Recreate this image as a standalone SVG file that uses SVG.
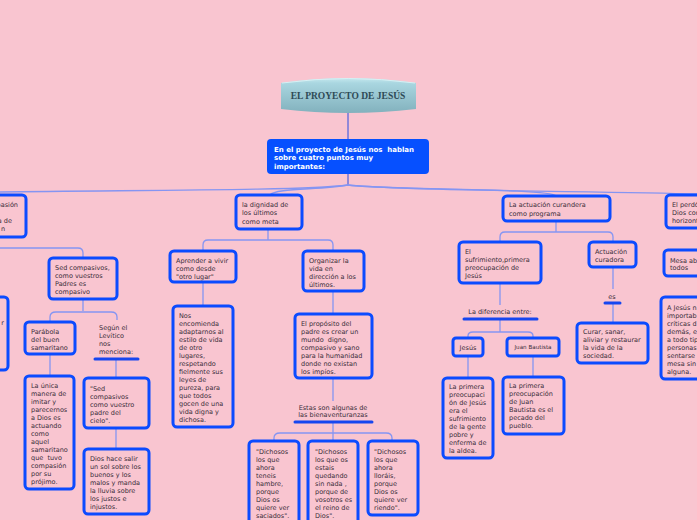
<svg xmlns="http://www.w3.org/2000/svg" width="697" height="520" viewBox="0 0 697 520">
<defs>
<linearGradient id="tg" x1="0" y1="0" x2="0" y2="1">
<stop offset="0" stop-color="#c4e8ee"/>
<stop offset="0.15" stop-color="#a9d6e0"/>
<stop offset="1" stop-color="#82b1bd"/>
</linearGradient>
<style>
.n{fill:#f9c5d0;stroke:#0b4bff;stroke-width:3}
.t{font-family:"DejaVu Sans",Verdana,sans-serif;font-size:6.5px;fill:#3a2e3a;white-space:pre}
.c{fill:none;stroke:#8595f2;stroke-width:1.3}
.b{stroke:#1646f0;stroke-width:3;stroke-linecap:round}
</style>
</defs>
<rect width="697" height="520" fill="#f9c5d0"/>

<g id="connectors">
<path d="M348,112 V139" fill="none" stroke="#2a4de0" stroke-width="1"/>
<path d="M348,174 V185" fill="none" stroke="#2a4de0" stroke-width="1"/>
<path class="c" d="M348,185 C300,191 120,190 0,192"/>
<path class="c" d="M348,185 C320,190 275,188 270,195"/>
<path class="c" d="M348,185 C380,190 550,188 556,196"/>
<path class="c" d="M348,185 C400,191 600,191 697,194"/>
<path class="c" d="M0,248 H78 Q83,248 83,253 V258"/>
<path class="c" d="M83,299 V311 M50,322 V317 Q50,312 56,312 H111 Q117,312 117,317 V320"/>
<path class="c" d="M50,354 V376 M116,359 V378 M116,428 V449"/>
<path class="c" d="M268,229 V240 M203,251 V245 Q203,240 208,240 H328 Q333,240 333,245 V251"/>
<path class="c" d="M203,282 V306 M333,291 V314 M333,378 V401"/>
<path class="c" d="M333,422 V441 M274,441 V438 Q274,433 280,433 H386 Q392,433 392,438 V441"/>
<path class="c" d="M556,221 V232 M500,242 V237 Q500,232 505,232 H608 Q613,232 613,237 V242"/>
<path class="c" d="M500,283 V305 M500,319 V332 M468,338 V336 Q468,332 473,332 H528 Q533,332 533,336 V338"/>
<path class="c" d="M468,356 V378 M533,356 V377"/>
<path class="c" d="M613,267 V289 M613,303 V323"/>
<line class="b" x1="95" y1="359" x2="138" y2="359"/>
<line class="b" x1="295" y1="422" x2="372" y2="422"/>
<line class="b" x1="464" y1="319" x2="537" y2="319"/>
<line class="b" x1="605" y1="303" x2="620" y2="303"/>
</g>

<g id="title">
<path d="M281,83 Q348,73 416,83 L416,109 Q348,117 281,109 Z" fill="url(#tg)"/>
<path d="M282,83 Q348,74 415,83" fill="none" stroke="#d8f0f4" stroke-width="1"/>
<text x="348" y="99" text-anchor="middle" font-family="'Liberation Serif','Times New Roman',serif" font-weight="bold" font-size="9.5" fill="#2e4a56">EL PROYECTO DE JESÚS</text>
</g>

<g id="main">
<rect x="267" y="139" width="162" height="35" rx="4" fill="#0650ff"/>
<text class="t" style="fill:#fff;font-weight:bold;font-size:7px"><tspan x="274" y="151.5">En el proyecto de Jesús nos  hablan</tspan><tspan x="274" y="160">sobre cuatro puntos muy</tspan><tspan x="274" y="168.5">importantes:</tspan></text>
</g>

<g id="compasion">
<rect class="n" x="-20" y="195" width="46" height="42" rx="4"/>
<text class="t" text-anchor="end"><tspan x="18" y="206.5">pasión</tspan><tspan x="12" y="223">a de</tspan><tspan x="5" y="230.5">n</tspan></text>
</g>

<g id="leftcut">
<rect class="n" x="-20" y="297" width="28" height="73" rx="4"/>
<text class="t" text-anchor="end"><tspan x="4" y="324.5">r</tspan></text>
</g>

<g id="sed">
<rect class="n" x="49" y="258" width="68" height="41" rx="4"/>
<text class="t"><tspan x="55" y="270">Sed compasivos,</tspan><tspan x="55" y="278">como vuestros</tspan><tspan x="55" y="286">Padres es</tspan><tspan x="55" y="294">compasivo</tspan></text>
</g>

<g id="parabola">
<rect class="n" x="25" y="322" width="50" height="32" rx="4"/>
<text class="t"><tspan x="31" y="333.5">Parábola</tspan><tspan x="31" y="341.5">del buen</tspan><tspan x="31" y="349.5">samaritano</tspan></text>
</g>

<g id="unica">
<rect class="n" x="25" y="376" width="49" height="113" rx="4"/>
<text class="t"><tspan x="31" y="387.5">La única</tspan><tspan x="31" y="395.5">manera de</tspan><tspan x="31" y="403.5">imitar y</tspan><tspan x="31" y="411.5">parecernos</tspan><tspan x="31" y="419.5">a Dios es</tspan><tspan x="31" y="427.5">actuando</tspan><tspan x="31" y="435.5">como</tspan><tspan x="31" y="443.5">aquel</tspan><tspan x="31" y="451.5">samaritano</tspan><tspan x="31" y="459.5">que  tuvo</tspan><tspan x="31" y="467.5">compasión</tspan><tspan x="31" y="475.5">por su</tspan><tspan x="31" y="483.5">prójimo.</tspan></text>
</g>

<g id="levitico">
<text class="t"><tspan x="99" y="329.5">Según el</tspan><tspan x="99" y="337.5">Levítico</tspan><tspan x="99" y="345.5">nos</tspan><tspan x="99" y="353.5">menciona:</tspan></text>
</g>

<g id="sedcielo">
<rect class="n" x="84" y="378" width="65" height="50" rx="4"/>
<text class="t"><tspan x="90" y="390.5">"Sed</tspan><tspan x="90" y="398.5">compasivos</tspan><tspan x="90" y="406.5">como vuestro</tspan><tspan x="90" y="414.5">padre del</tspan><tspan x="90" y="422.5">cielo".</tspan></text>
</g>

<g id="dioshace">
<rect class="n" x="84" y="449" width="65" height="65" rx="4"/>
<text class="t"><tspan x="90" y="460.5">Dios hace salir</tspan><tspan x="90" y="468.5">un sol sobre los</tspan><tspan x="90" y="476.5">buenos y los</tspan><tspan x="90" y="484.5">malos y manda</tspan><tspan x="90" y="492.5">la lluvia sobre</tspan><tspan x="90" y="500.5">los justos e</tspan><tspan x="90" y="508.5">injustos.</tspan></text>
</g>

<g id="dignidad">
<rect class="n" x="236" y="195" width="66" height="34" rx="4"/>
<text class="t"><tspan x="242" y="206.5">la dignidad de</tspan><tspan x="242" y="215">los últimos</tspan><tspan x="242" y="223.5">como meta</tspan></text>
</g>

<g id="aprender">
<rect class="n" x="170" y="251" width="66" height="31" rx="4"/>
<text class="t"><tspan x="176" y="262.5">Aprender a vivir</tspan><tspan x="176" y="270.5">como desde</tspan><tspan x="176" y="278.5">"otro lugar"</tspan></text>
</g>

<g id="nos">
<rect class="n" x="173" y="306" width="60" height="121" rx="4"/>
<text class="t"><tspan x="179" y="317.5">Nos</tspan><tspan x="179" y="325.5">encomienda</tspan><tspan x="179" y="333.5">adaptarnos al</tspan><tspan x="179" y="341.5">estilo de vida</tspan><tspan x="179" y="349.5">de otro</tspan><tspan x="179" y="357.5">lugares,</tspan><tspan x="179" y="365.5">respetando</tspan><tspan x="179" y="373.5">fielmente sus</tspan><tspan x="179" y="381.5">leyes de</tspan><tspan x="179" y="389.5">pureza, para</tspan><tspan x="179" y="397.5">que todos</tspan><tspan x="179" y="405.5">gocen de una</tspan><tspan x="179" y="413.5">vida digna y</tspan><tspan x="179" y="421.5">dichosa.</tspan></text>
</g>

<g id="organizar">
<rect class="n" x="303" y="251" width="61" height="40" rx="4"/>
<text class="t"><tspan x="309" y="262.5">Organizar la</tspan><tspan x="309" y="270.5">vida en</tspan><tspan x="309" y="278.5">dirección a los</tspan><tspan x="309" y="286.5">últimos.</tspan></text>
</g>

<g id="proposito">
<rect class="n" x="295" y="314" width="77" height="64" rx="4"/>
<text class="t"><tspan x="301" y="325.5">El propósito del</tspan><tspan x="301" y="333.5">padre es crear un</tspan><tspan x="301" y="341.5">mundo  digno,</tspan><tspan x="301" y="349.5">compasivo y sano</tspan><tspan x="301" y="357.5">para la humanidad</tspan><tspan x="301" y="365.5">donde no existan</tspan><tspan x="301" y="373.5">los impíos.</tspan></text>
</g>

<g id="bienaventuranzas">
<text class="t" text-anchor="middle"><tspan x="333" y="409.5">Estas son algunas de</tspan><tspan x="333" y="417">las bienaventuranzas</tspan></text>
</g>

<g id="dichosos1">
<rect class="n" x="249" y="441" width="50" height="90" rx="4"/>
<text class="t"><tspan x="256" y="453.5">"Dichosos</tspan><tspan x="256" y="461.5">los que</tspan><tspan x="256" y="469.5">ahora</tspan><tspan x="256" y="477.5">teneis</tspan><tspan x="256" y="485.5">hambre,</tspan><tspan x="256" y="493.5">porque</tspan><tspan x="256" y="501.5">Dios os</tspan><tspan x="256" y="509.5">quiere ver</tspan><tspan x="256" y="517.5">saciados".</tspan></text>
</g>

<g id="dichosos2">
<rect class="n" x="308" y="441" width="50" height="90" rx="4"/>
<text class="t"><tspan x="315" y="453.5">"Dichosos</tspan><tspan x="315" y="461.5">los que os</tspan><tspan x="315" y="469.5">estais</tspan><tspan x="315" y="477.5">quedando</tspan><tspan x="315" y="485.5">sin nada ,</tspan><tspan x="315" y="493.5">porque de</tspan><tspan x="315" y="501.5">vosotros es</tspan><tspan x="315" y="509.5">el reino de</tspan><tspan x="315" y="517.5">Dios".</tspan></text>
</g>

<g id="dichosos3">
<rect class="n" x="368" y="441" width="50" height="74" rx="4"/>
<text class="t"><tspan x="374" y="453.5">"Dichosos</tspan><tspan x="374" y="461.5">los que</tspan><tspan x="374" y="469.5">ahora</tspan><tspan x="374" y="477.5">lloráis,</tspan><tspan x="374" y="485.5">porque</tspan><tspan x="374" y="493.5">Dios os</tspan><tspan x="374" y="501.5">quiere ver</tspan><tspan x="374" y="509.5">riendo".</tspan></text>
</g>

<g id="actuacion">
<rect class="n" x="503" y="196" width="107" height="25" rx="4"/>
<text class="t"><tspan x="509" y="207">La actuación curandera</tspan><tspan x="509" y="215.5">como programa</tspan></text>
</g>

<g id="sufrimiento">
<rect class="n" x="459" y="242" width="82" height="41" rx="4"/>
<text class="t"><tspan x="465" y="254">El</tspan><tspan x="465" y="262">sufrimiento,primera</tspan><tspan x="465" y="270">preocupación de</tspan><tspan x="465" y="278">Jesús</tspan></text>
</g>

<g id="diferencia">
<text class="t" x="500" y="314" text-anchor="middle">La diferencia entre:</text>
</g>

<g id="jesus">
<rect class="n" x="453" y="338" width="30" height="18" rx="3"/>
<text class="t" x="468" y="349.5" text-anchor="middle">Jesús</text>
</g>

<g id="juan">
<rect class="n" x="507" y="338" width="52" height="18" rx="3"/>
<text class="t" x="533" y="349" text-anchor="middle" style="font-size:5.6px">Juan Bautista</text>
</g>

<g id="primerajesus">
<rect class="n" x="443" y="378" width="50" height="80" rx="4"/>
<text class="t"><tspan x="449" y="388.5">La primera</tspan><tspan x="449" y="396.5">preocupaci</tspan><tspan x="449" y="404.5">ón de Jesús</tspan><tspan x="449" y="412.5">era el</tspan><tspan x="449" y="420.5">sufrimiento</tspan><tspan x="449" y="428.5">de la gente</tspan><tspan x="449" y="436.5">pobre y</tspan><tspan x="449" y="444.5">enferma de</tspan><tspan x="449" y="452.5">la aldea.</tspan></text>
</g>

<g id="primerajuan">
<rect class="n" x="503" y="377" width="61" height="57" rx="4"/>
<text class="t"><tspan x="509" y="387.5">La primera</tspan><tspan x="509" y="395.5">preocupación</tspan><tspan x="509" y="403.5">de Juan</tspan><tspan x="509" y="411.5">Bautista es el</tspan><tspan x="509" y="419.5">pecado del</tspan><tspan x="509" y="427.5">pueblo.</tspan></text>
</g>

<g id="curadora">
<rect class="n" x="589" y="242" width="47" height="25" rx="4"/>
<text class="t"><tspan x="595" y="254">Actuación</tspan><tspan x="595" y="261.5">curadora</tspan></text>
</g>

<g id="es">
<text class="t" x="612" y="298.5" text-anchor="middle">es</text>
</g>

<g id="curar">
<rect class="n" x="577" y="323" width="71" height="40" rx="4"/>
<text class="t"><tspan x="583" y="334">Curar, sanar,</tspan><tspan x="583" y="341.5">aliviar y restaurar</tspan><tspan x="583" y="349.5">la vida de la</tspan><tspan x="583" y="357.5">sociedad.</tspan></text>
</g>

<g id="perdon">
<rect class="n" x="666" y="195" width="50" height="33" rx="4"/>
<text class="t"><tspan x="672" y="206.5">El perdó</tspan><tspan x="672" y="215">Dios cor</tspan><tspan x="672" y="223">horizont</tspan></text>
</g>

<g id="mesa">
<rect class="n" x="664" y="250" width="50" height="26" rx="4"/>
<text class="t"><tspan x="670" y="262.5">Mesa ab</tspan><tspan x="670" y="270">todos</tspan></text>
</g>

<g id="ajesus">
<rect class="n" x="661" y="297" width="50" height="82" rx="4"/>
<text class="t"><tspan x="667" y="309.5">A Jesús n</tspan><tspan x="667" y="317.5">importab</tspan><tspan x="667" y="325.5">críticas d</tspan><tspan x="667" y="333.5">demás, e</tspan><tspan x="667" y="341.5">a todo tip</tspan><tspan x="667" y="349.5">personas</tspan><tspan x="667" y="357.5">sentarse</tspan><tspan x="667" y="365.5">mesa sin</tspan><tspan x="667" y="373.5">alguna.</tspan></text>
</g>
</svg>
